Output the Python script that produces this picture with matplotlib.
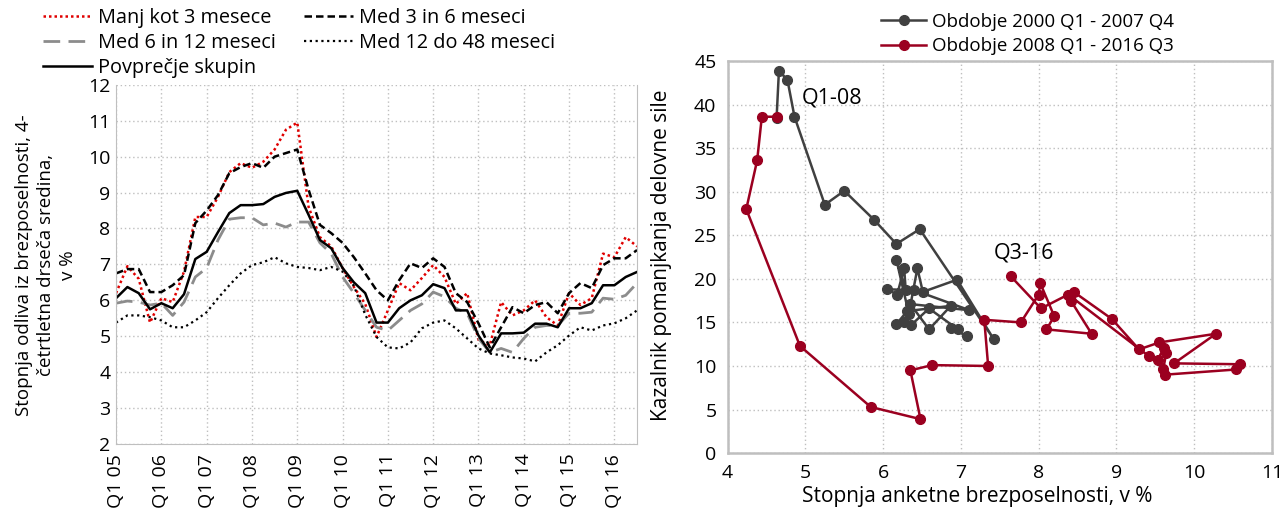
import numpy as np
import matplotlib
matplotlib.use("Agg")
import matplotlib.pyplot as plt

plt.rcParams["font.family"] = ["Open Sans", "DejaVu Sans"]
plt.rcParams["font.size"] = 13

# left chart: quarterly series Q1 05 .. Q3 16
quarters = [f"Q{q} {y:02d}" for y in range(5, 17) for q in range(1, 5)][:47]
tick_labels = [f"Q1 {y:02d}" for y in range(5, 17)]

manj_3 = [6.2, 6.95, 6.6, 5.38, 6.06, 5.95, 6.8, 8.32, 8.32, 8.88, 9.57, 9.82,
          9.69, 9.86, 10.2, 10.75, 10.95, 8.6, 7.76, 7.5, 6.9, 6.37, 5.9, 4.98,
          5.72, 6.48, 6.28, 6.62, 6.98, 6.65, 5.9, 6.2, 4.9, 4.75, 5.95, 5.58,
          5.72, 6.0, 5.53, 5.3, 6.2, 5.87, 6.06, 7.3, 7.2, 7.76, 7.5]
med_3_6 = [6.75, 6.87, 6.87, 6.23, 6.23, 6.42, 6.7, 8.15, 8.5, 8.93, 9.54, 9.71,
           9.82, 9.69, 10.0, 10.1, 10.2, 9.08, 8.1, 7.87, 7.6, 7.2, 6.75, 6.28,
           6.0, 6.56, 7.03, 6.9, 7.17, 6.93, 6.2, 5.95, 5.36, 4.69, 5.25, 5.81,
           5.64, 5.87, 5.95, 5.64, 6.2, 6.48, 6.34, 6.98, 7.17, 7.17, 7.4]
med_6_12 = [5.92, 5.98, 5.95, 5.87, 5.92, 5.58, 5.95, 6.65, 6.9, 7.68, 8.26, 8.3,
            8.3, 8.1, 8.15, 8.04, 8.18, 8.18, 7.6, 7.3, 6.65, 6.2, 5.72, 5.25,
            5.16, 5.44, 5.72, 5.9, 6.23, 6.1, 5.78, 5.64, 4.94, 4.55, 4.66, 4.55,
            4.94, 5.25, 5.3, 5.3, 5.64, 5.64, 5.67, 6.06, 6.03, 6.14, 6.48]
med_12_48 = [5.38, 5.58, 5.58, 5.53, 5.44, 5.25, 5.25, 5.44, 5.67, 6.06, 6.42, 6.75,
             6.98, 7.06, 7.2, 7.03, 6.93, 6.9, 6.84, 6.93, 6.8, 6.4, 5.6, 4.98,
             4.69, 4.66, 4.83, 5.22, 5.38, 5.44, 5.22, 4.94, 4.66, 4.52, 4.47, 4.41,
             4.38, 4.3, 4.55, 4.75, 5.02, 5.25, 5.16, 5.3, 5.36, 5.5, 5.72]
povprecje = [6.06, 6.37, 6.2, 5.75, 5.92, 5.78, 6.17, 7.15, 7.35, 7.9, 8.43, 8.65,
             8.65, 8.68, 8.88, 8.99, 9.05, 8.38, 7.68, 7.45, 6.9, 6.5, 6.2, 5.38,
             5.38, 5.78, 6.0, 6.14, 6.45, 6.34, 5.72, 5.72, 5.02, 4.55, 5.08, 5.08,
             5.1, 5.35, 5.35, 5.25, 5.78, 5.78, 5.92, 6.42, 6.42, 6.65, 6.79]

# right chart: unemployment rate vs labour shortage indicator
gray_x = [7.08, 6.87, 6.96, 6.59, 6.36, 6.27, 6.17, 6.31, 6.87, 6.59, 6.35, 7.11,
          6.40, 6.05, 6.18, 6.27, 6.29, 6.17, 6.33, 6.44, 6.51, 6.95, 7.42, 6.47,
          6.17, 5.88, 5.50, 5.25, 4.86, 4.77, 4.66, 4.63]
gray_y = [13.4, 14.4, 14.2, 16.6, 14.7, 15.1, 14.8, 16.3, 16.9, 14.2, 17.1, 16.4,
          18.7, 18.8, 18.2, 21.2, 18.7, 22.2, 16.0, 21.2, 18.5, 19.9, 13.1, 25.7,
          24.0, 26.8, 30.1, 28.5, 38.6, 42.8, 43.9, 38.5]
red_x = [4.64, 4.44, 4.38, 4.24, 4.93, 5.84, 6.48, 6.35, 6.63, 7.35, 7.30, 7.77,
         8.00, 8.02, 8.20, 8.10, 8.68, 8.42, 8.45, 8.94, 9.29, 9.55, 10.28, 9.74,
         10.59, 10.54, 9.62, 9.60, 9.64, 9.61, 9.53, 9.42, 8.38, 8.03, 7.64]
red_y = [38.6, 38.6, 33.6, 28.0, 12.3, 5.3, 3.9, 9.5, 10.1, 10.0, 15.3, 15.0,
         18.2, 19.5, 15.7, 14.2, 13.7, 17.4, 18.5, 15.4, 11.9, 12.7, 13.7, 10.3,
         10.2, 9.6, 9.0, 9.6, 11.5, 12.1, 10.7, 11.1, 18.2, 16.6, 20.3]

fig = plt.figure(figsize=(12.81, 5.08), dpi=100)
grid_kw = dict(color="#bfbfbf", linestyle=(0, (1, 2)), linewidth=1.0)

# ---- left chart
ax1 = fig.add_axes([0.0906, 0.126, 0.4067, 0.707])
xi = np.arange(len(quarters))
l1, = ax1.plot(xi, manj_3, color="#e00000", linestyle=(0, (1, 1.2)), lw=1.8)
l2, = ax1.plot(xi, med_3_6, color="black", linestyle=(0, (3, 1.6)), lw=1.8)
l3, = ax1.plot(xi, med_6_12, color="#8c8c8c", linestyle=(0, (6, 3)), lw=2.0)
l4, = ax1.plot(xi, med_12_48, color="black", linestyle=(0, (1, 1.6)), lw=1.6)
l5, = ax1.plot(xi, povprecje, color="black", linestyle="-", lw=1.8)
ax1.set_xlim(0, len(quarters) - 1)
ax1.set_ylim(2, 12)
ax1.set_yticks(range(2, 13))
ax1.set_xticks(xi[::4])
ax1.set_xticklabels(tick_labels, rotation=90, fontsize=14)
ax1.grid(True, **grid_kw)
ax1.set_axisbelow(True)
ax1.spines["top"].set_visible(False)
for s in ["left", "bottom", "right"]:
    ax1.spines[s].set_color("#bfbfbf")
ax1.spines["right"].set_linewidth(0.8)
ax1.tick_params(axis="y", length=0, pad=4, labelsize=14)
ax1.tick_params(axis="x", length=0, pad=7)
fig.text(46 / 1281, 0.478,
         "Stopnja odliva iz brezposelnosti, 4-\nčetrtletna drseča sredina,\nv %",
         rotation=90, ha="center", va="center", multialignment="center",
         linespacing=1.3, fontsize=13.5)
fig.legend([l1, l3, l5, l2, l4],
           ["Manj kot 3 mesece", "Med 6 in 12 meseci", "Povprečje skupin",
            "Med 3 in 6 meseci", "Med 12 do 48 meseci"],
           ncol=2, loc="upper left", bbox_to_anchor=(0.027, 1.0), frameon=False,
           fontsize=14.3, handlelength=2.5, handletextpad=0.3, columnspacing=1.4,
           labelspacing=0.25, borderaxespad=0)

# ---- right chart
ax2 = fig.add_axes([0.568, 0.108, 0.425, 0.772])
g, = ax2.plot(gray_x, gray_y, color="#404040", marker="o", markersize=7, lw=1.8)
r, = ax2.plot(red_x, red_y, color="#9b0020", marker="o", markersize=7, lw=1.8)
ax2.set_xlim(4, 11)
ax2.set_ylim(0, 45)
ax2.set_yticks(range(0, 46, 5))
ax2.set_xticks(range(4, 12))
ax2.grid(True, **grid_kw)
ax2.set_axisbelow(True)
for s in ax2.spines.values():
    s.set_color("#bfbfbf")
    s.set_linewidth(1.8)
ax2.tick_params(length=0, pad=8, labelsize=14)
ax2.set_ylabel("Kazalnik pomanjkanja delovne sile", fontsize=15)
ax2.yaxis.set_label_coords((672 - 728) / 544, 0.505)
ax2.set_xlabel("Stopnja anketne brezposelnosti, v %", fontsize=15)
ax2.xaxis.set_label_coords((977 - 728) / 544, -0.085)
ax2.text(4.95, 40.8, "Q1-08", fontsize=15.5, va="center")
ax2.text(7.42, 23.0, "Q3-16", fontsize=15.5, va="center")
fig.legend([g, r], ["Obdobje 2000 Q1 - 2007 Q4", "Obdobje 2008 Q1 - 2016 Q3"],
           loc="upper center", bbox_to_anchor=(0.802, 0.99), frameon=False,
           fontsize=13.5, handlelength=2.4, handletextpad=0.3, labelspacing=0.35,
           borderaxespad=0)

fig.savefig("out.png", dpi=100)
